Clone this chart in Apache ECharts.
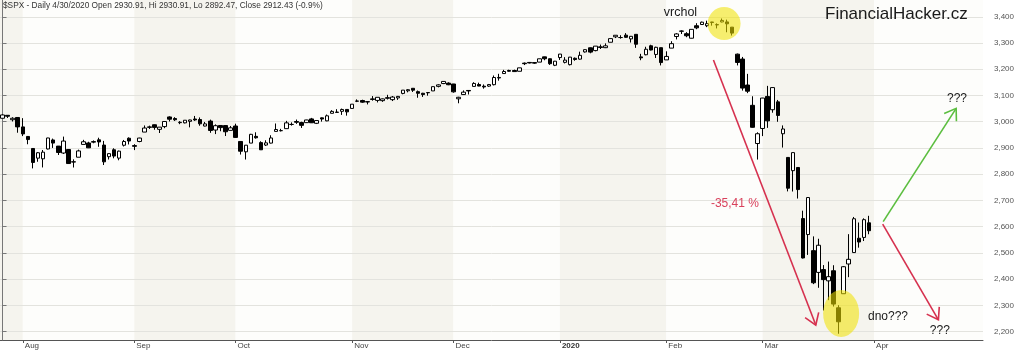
<!DOCTYPE html>
<html>
<head>
<meta charset="utf-8">
<script src="https://cdn.jsdelivr.net/npm/echarts@6/dist/echarts.min.js"></script>
<style>
html,body{margin:0;padding:0;background:#ffffff;}
#chart{width:1024px;height:352px;}
</style>
</head>
<body>
<div id="chart"></div>
<script>
// ---------------- DATA ----------------
const firstDay = '2019-07-26';
const totalCategories = 194;
const holidays = ['2019-09-02','2019-11-28','2019-12-25','2020-01-01','2020-01-20','2020-02-17','2020-04-10'];

// S&P 500 daily OHLC, 2019-07-26 .. 2020-03-31
const open = [3013.25,3024.47,3007.66,3016.22,
2980.32,2943.90,2898.07,2861.18,2858.65,2896.21,2930.51,2907.07,2880.72,2894.15,2846.20,2864.74,2913.48,2919.01,2922.04,2930.94,2911.07,2866.70,2893.14,2861.28,2910.37,2937.09,
2909.01,2924.67,2960.60,2980.33,2988.43,2971.01,2981.41,3018.21,3012.21,2996.41,2995.67,3001.50,3010.36,3008.42,2983.50,3002.43,2968.35,2985.73,2985.47,2967.07,
2983.69,2924.78,2885.38,2918.56,2944.23,2920.40,2911.10,2918.55,2963.07,2965.81,2973.61,2989.68,3000.77,2996.84,2996.48,3010.73,2994.01,3014.78,3003.32,3032.12,3035.39,3039.74,3046.90,
3050.72,3078.96,3080.80,3075.10,3087.02,3081.25,3080.33,3089.28,3084.18,3090.75,3107.92,3117.91,3127.45,3114.66,3108.49,3111.41,3117.44,3134.85,3145.49,3147.18,
3143.85,3087.41,3103.50,3119.21,3134.62,3141.86,3135.36,3135.75,3141.23,3166.65,3183.63,3195.40,3195.21,3192.32,3223.33,3226.05,3225.45,3227.20,3247.23,3240.09,3215.18,
3244.67,3226.36,3217.55,3241.86,3238.59,3266.03,3281.81,3271.13,3285.35,3282.27,3302.97,3323.66,3321.03,3330.02,3315.77,3333.10,3247.16,3255.35,3289.46,3256.45,3282.33,
3235.66,3280.61,3324.91,3344.92,3335.54,3318.28,3365.87,3370.50,3365.90,3378.08,3369.04,3380.39,3380.45,3360.50,3257.61,3238.94,3139.90,3062.54,2916.90,
2974.28,3096.46,3045.75,3075.70,2954.20,2863.89,2813.48,2825.60,2630.86,2569.99,2508.59,2425.66,2436.50,2393.48,2431.94,2290.71,2344.44,2457.77,2501.29,2555.87,2558.98,2614.69];
const high = [3027.98,3025.61,3017.19,3017.40,
3013.59,2945.50,2898.07,2884.40,2892.17,2938.72,2935.75,2907.58,2943.31,2894.15,2856.67,2893.63,2931.00,2923.63,2928.73,2939.08,2927.01,2879.27,2898.79,2890.03,2930.50,2940.43,
2914.39,2938.84,2985.86,2985.03,2989.43,2979.39,3000.93,3020.76,3017.33,3002.19,3006.21,3007.83,3021.99,3016.37,2999.15,3007.98,2989.82,2987.28,2987.31,2983.85,
2992.53,2924.78,2911.13,2953.74,2959.75,2925.47,2929.32,2948.46,2993.28,2972.84,3003.28,2997.54,3008.29,3000.00,3007.33,3014.57,3004.78,3016.07,3027.39,3044.08,3047.87,3050.10,3046.90,
3066.95,3085.20,3083.95,3078.34,3097.77,3093.09,3088.33,3102.61,3098.06,3098.20,3120.46,3124.17,3127.64,3118.97,3110.11,3112.87,3133.83,3142.69,3154.26,3150.30,
3144.31,3094.97,3119.38,3119.45,3150.60,3148.87,3142.12,3143.98,3176.28,3182.68,3197.71,3198.22,3198.48,3205.48,3225.65,3227.78,3226.43,3240.08,3247.93,3240.92,3231.72,
3258.14,3246.15,3246.84,3244.91,3267.07,3275.58,3282.99,3288.13,3294.25,3298.66,3317.11,3329.88,3329.79,3337.77,3326.88,3333.18,3258.85,3285.78,3293.47,3285.91,3282.33,
3268.44,3306.92,3337.58,3347.96,3341.42,3352.26,3375.63,3381.47,3385.09,3380.69,3375.01,3393.52,3389.15,3360.76,3259.81,3246.99,3182.51,3097.07,2959.72,
3090.96,3136.72,3130.97,3083.04,2985.93,2863.89,2882.59,2825.60,2660.95,2711.33,2562.98,2553.93,2453.57,2466.97,2453.01,2300.73,2449.71,2571.42,2637.01,2615.91,2631.80,2641.39];
const low = [3012.59,3014.30,3000.94,2958.08,
2945.23,2914.11,2822.12,2847.42,2825.71,2894.47,2900.15,2873.14,2877.05,2839.64,2825.51,2864.74,2913.48,2899.60,2917.91,2904.51,2834.97,2856.00,2860.59,2853.05,2905.67,2913.32,
2891.85,2921.86,2960.60,2972.51,2969.39,2957.01,2975.31,3000.91,3002.90,2990.67,2993.73,2978.57,3003.16,2984.68,2982.23,2957.73,2952.86,2963.71,2945.53,2967.07,
2938.70,2874.93,2855.94,2918.56,2935.68,2892.66,2907.41,2917.12,2963.07,2962.94,2973.61,2985.20,2991.79,2976.31,2995.35,2995.04,2991.21,3000.42,3001.94,3032.12,3034.81,3025.96,3023.19,
3050.72,3074.87,3072.15,3065.89,3080.23,3073.58,3075.82,3084.73,3078.80,3083.26,3104.60,3112.06,3113.47,3091.41,3094.55,3099.26,3117.44,3131.00,3143.41,3139.34,
3110.78,3070.33,3102.53,3103.76,3134.62,3135.46,3126.09,3133.21,3138.47,3156.51,3183.63,3191.03,3191.14,3192.32,3216.03,3222.30,3220.51,3227.20,3234.37,3216.57,3212.03,
3235.53,3222.34,3214.64,3232.43,3236.67,3263.67,3260.86,3268.43,3277.19,3280.69,3302.82,3318.86,3316.61,3320.04,3301.87,3281.53,3234.50,3253.22,3271.89,3242.80,3214.68,
3235.66,3280.61,3313.75,3334.39,3322.12,3317.77,3352.72,3369.72,3360.52,3366.15,3355.61,3378.83,3341.02,3328.45,3214.65,3118.77,3108.99,2977.39,2855.84,
2945.19,2976.63,3034.38,2999.83,2901.54,2734.43,2734.00,2707.22,2478.86,2492.37,2380.94,2367.04,2280.52,2319.78,2295.56,2191.86,2344.44,2407.53,2500.72,2520.02,2545.28,2571.15];
const close = [3025.86,3020.97,3013.18,2980.38,
2953.56,2932.05,2844.74,2881.77,2883.98,2938.09,2918.65,2882.70,2926.32,2840.60,2847.60,2888.68,2923.65,2900.51,2924.43,2922.95,2847.11,2878.38,2869.16,2887.94,2924.58,2926.46,
2906.27,2937.78,2976.00,2978.71,2978.43,2979.39,3000.93,3009.57,3007.39,2997.96,3005.70,3006.73,3006.79,2992.07,2991.78,2966.60,2984.87,2977.62,2961.79,2976.74,
2940.25,2887.61,2910.63,2952.01,2938.79,2893.06,2919.40,2938.13,2970.27,2966.15,2995.68,2989.69,2997.95,2986.20,3006.72,2995.99,3004.52,3010.29,3022.55,3039.42,3036.89,3046.77,3037.56,
3066.91,3078.27,3074.62,3076.78,3085.18,3093.08,3087.01,3091.84,3094.04,3096.63,3120.46,3122.03,3120.18,3108.46,3103.54,3110.29,3133.64,3140.52,3153.63,3140.98,
3113.87,3093.20,3112.76,3117.43,3145.91,3135.96,3132.52,3141.63,3168.57,3168.80,3191.45,3192.52,3191.14,3205.37,3221.22,3224.01,3223.38,3239.91,3240.02,3221.29,3230.78,
3257.85,3234.85,3246.28,3237.18,3253.05,3274.70,3265.35,3288.13,3283.15,3289.29,3316.81,3329.62,3320.79,3321.75,3325.54,3295.47,3243.63,3276.24,3273.40,3283.66,3225.52,
3248.92,3297.59,3334.69,3345.78,3327.71,3352.09,3357.75,3379.45,3373.94,3380.16,3370.29,3386.15,3373.23,3337.75,3225.89,3128.21,3116.39,2978.76,2954.22,
3090.23,3003.37,3130.12,3023.94,2972.37,2746.56,2882.23,2741.38,2480.64,2711.02,2386.13,2529.19,2398.10,2409.39,2304.92,2237.40,2447.33,2475.56,2630.07,2541.47,2626.65,2584.59];

// axis ticks / labels
const yTicks = [2200,2300,2400,2500,2600,2700,2800,2900,3000,3100,3200,3300,3400];
const yMin = 2168, yMax = 3464;
const monthTickDates = ['2019-08-01','2019-09-03','2019-10-01','2019-11-01','2019-12-02','2020-01-02','2020-02-03','2020-03-02','2020-04-01'];
const monthTickLabels = ['Aug','Sep','Oct','Nov','Dec','2020','Feb','Mar','Apr'];

// annotations (in category-index / price units)
const highlightX = [142.4, 165.5];
const highlightY = [3374, 2269];
const arrowFromX = [140.3, 173.8, 173.7];
const arrowFromY = [3235, 2619, 2610];
const arrowToX = [160.5, 188.2, 184.7];
const arrowToY = [2225, 3051, 2245];
const noteTexts = ['vrchol', '-35,41 %', '???', '???', 'dno???'];
const noteX = [130.5, 139.8, 186.4, 183.0, 170.8];
const noteY = [3418, 2686, 3086, 2203, 2256];

// ---------------- BUILD ----------------
const holidaySet = new Set(holidays);
const dates = [];
(function(){
  let d = new Date(firstDay + 'T00:00:00Z');
  while (dates.length < totalCategories) {
    const s = d.toISOString().slice(0,10);
    const wd = d.getUTCDay();
    if (wd !== 0 && wd !== 6 && !holidaySet.has(s)) dates.push(s);
    d = new Date(d.getTime() + 86400000);
  }
})();
const candleData = open.map((o,i) => [o, close[i], low[i], high[i]]);
const tickMap = {};
monthTickDates.forEach((d,i) => { tickMap[d] = monthTickLabels[i]; });
const tickIdx = monthTickDates.map(d => dates.indexOf(d));
const edges = [-0.5].concat(tickIdx, [totalCategories - 0.5]);
const bands = [];
for (let k = 0; k < edges.length - 1; k++) bands.push([edges[k], edges[k+1], k % 2]);

const FONT = 'Liberation Sans, Arial, sans-serif';
const bandColors = ['#F5F4EE', '#FDFDFB'];
const arrowColors = ['#D6314F', '#5BBE3F', '#D6314F'];
const noteColors = ['#1a1a1a', '#D9415C', '#1a1a1a', '#1a1a1a', '#1a1a1a'];
const highlightRx = [16.5, 18];
const highlightRy = [16.5, 23.5];

const chart = echarts.init(document.getElementById('chart'), null, {renderer: 'canvas'});
const option = {
  backgroundColor: '#ffffff',
  animation: false,
  title: [
    {text: '$SPX - Daily 4/30/2020 Open 2930.91, Hi 2930.91, Lo 2892.47, Close 2912.43 (-0.9%)',
     left: 3, top: 2, padding: 0,
     textStyle: {fontSize: 8.3, fontWeight: 'normal', color: '#333', fontFamily: FONT}},
    {text: 'FinancialHacker.cz', left: 825, top: 6, padding: 0,
     textStyle: {fontSize: 17, fontWeight: 'normal', color: '#1a1a1a', fontFamily: FONT}}
  ],
  grid: {left: 0, right: 41, top: 0, bottom: 12, containLabel: false},
  xAxis: [
    {type: 'category', data: dates, boundaryGap: true, gridIndex: 0,
     axisLine: {show: true, lineStyle: {color: '#555', width: 1}},
     axisTick: {show: true, alignWithLabel: true, length: 3, lineStyle: {color: '#555'},
                interval: (i, v) => tickMap[v] !== undefined},
     axisLabel: {show: true, interval: (i, v) => tickMap[v] !== undefined,
                 formatter: v => tickMap[v] === '2020' ? '{b|2020}' : (tickMap[v] || ''),
                 align: 'left', margin: 2, padding: [0,0,0,2],
                 fontSize: 8, color: '#444', fontFamily: FONT,
                 rich: {b: {fontSize: 8, fontWeight: 'bold', color: '#333', fontFamily: FONT}}},
     splitLine: {show: false}},
    {type: 'value', gridIndex: 0, min: -0.5, max: totalCategories - 0.5, show: false,
     splitLine: {show: false}}
  ],
  yAxis: [{
    type: 'value', position: 'right', min: yMin, max: yMax, z: 1,
    axisLine: {show: true, lineStyle: {color: '#777', width: 1}},
    axisTick: {show: true, length: 4, customValues: yTicks, lineStyle: {color: '#777'}},
    axisLabel: {show: true, customValues: yTicks, margin: 11, fontSize: 8, color: '#555', fontFamily: FONT,
                formatter: v => v.toLocaleString('en-US')},
    splitLine: {show: true, lineStyle: {color: '#E3E3DE', width: 1}}
  }],
  series: [
    {
      name: 'bands', type: 'custom', xAxisIndex: 1, yAxisIndex: 0, z: 0, silent: true,
      encode: {x: [0, 1]},
      data: bands,
      renderItem: (params, api) => {
        const cs = params.coordSys;
        const a = api.coord([api.value(0), yMax]);
        const b = api.coord([api.value(1), yMax]);
        return {type: 'rect', shape: {x: a[0], y: cs.y, width: b[0] - a[0], height: cs.height},
                style: {fill: bandColors[api.value(2)]}};
      }
    },
    {
      name: 'SPX', type: 'candlestick', xAxisIndex: 0, yAxisIndex: 0, z: 2,
      data: candleData, barWidth: 4,
      itemStyle: {color: '#ffffff', color0: '#000000', borderColor: '#000000', borderColor0: '#000000', borderWidth: 1}
    },
    {
      name: 'highlights', type: 'custom', xAxisIndex: 1, yAxisIndex: 0, z: 3, silent: true,
      data: highlightX.map((x,i) => [x, highlightY[i]]),
      renderItem: (params, api) => {
        const p = api.coord([api.value(0), api.value(1)]);
        const i = params.dataIndex;
        return {type: 'circle', x: p[0], y: p[1], scaleY: highlightRy[i] / highlightRx[i],
                shape: {cx: 0, cy: 0, r: highlightRx[i]},
                style: {fill: 'rgba(240,226,0,0.56)'}};
      }
    },
    {
      name: 'arrows', type: 'custom', xAxisIndex: 1, yAxisIndex: 0, z: 4, silent: true,
      encode: {x: [0, 2], y: [1, 3]},
      data: arrowFromX.map((x,i) => [x, arrowFromY[i], arrowToX[i], arrowToY[i]]),
      renderItem: (params, api) => {
        const a = api.coord([api.value(0), api.value(1)]);
        const b = api.coord([api.value(2), api.value(3)]);
        const dx = b[0] - a[0], dy = b[1] - a[1], L = Math.hypot(dx, dy);
        const ux = -dx / L, uy = -dy / L;
        const t = 34 * Math.PI / 180, len = 13;
        const r1 = [ux * Math.cos(t) - uy * Math.sin(t), ux * Math.sin(t) + uy * Math.cos(t)];
        const r2 = [ux * Math.cos(-t) - uy * Math.sin(-t), ux * Math.sin(-t) + uy * Math.cos(-t)];
        const c = arrowColors[params.dataIndex];
        return {type: 'group', children: [
          {type: 'line', shape: {x1: a[0], y1: a[1], x2: b[0], y2: b[1]}, style: {stroke: c, lineWidth: 1.6}},
          {type: 'polyline', shape: {points: [[b[0] + r1[0] * len, b[1] + r1[1] * len], [b[0], b[1]], [b[0] + r2[0] * len, b[1] + r2[1] * len]]},
           style: {stroke: c, lineWidth: 1.6, fill: null}}
        ]};
      }
    },
    {
      name: 'notes', type: 'custom', xAxisIndex: 1, yAxisIndex: 0, z: 5, silent: true,
      data: noteX.map((x,i) => [x, noteY[i]]),
      renderItem: (params, api) => {
        const p = api.coord([api.value(0), api.value(1)]);
        const i = params.dataIndex;
        return {type: 'text', x: p[0], y: p[1],
                style: {text: noteTexts[i], fill: noteColors[i], fontSize: i === 0 ? 12.5 : 12,
                        fontFamily: FONT, align: 'left', verticalAlign: 'middle'}};
      }
    }
  ]
};
chart.setOption(option);
</script>
</body>
</html>
